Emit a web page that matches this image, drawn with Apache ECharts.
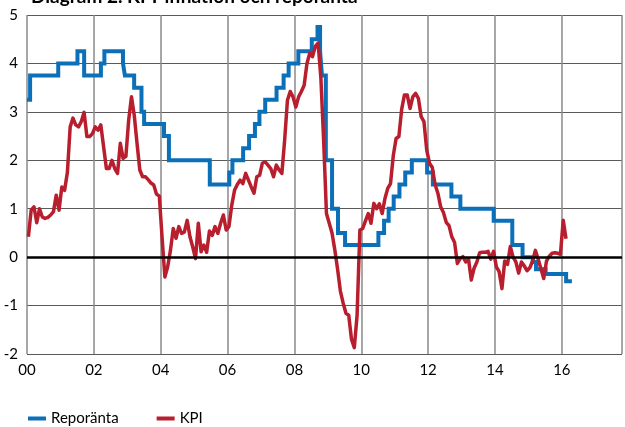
<!DOCTYPE html>
<html>
<head>
<meta charset="utf-8">
<script src="https://cdn.jsdelivr.net/npm/echarts@6/dist/echarts.min.js"></script>
<style>
  html, body { margin: 0; padding: 0; background: #fff; }
  #chart { width: 625px; height: 427px; }
</style>
</head>
<body>
<div id="chart"></div>
<script>
// Title and legend names
const titleText = 'Diagram 2. KPI-inflation och reporänta';
const seriesNames = ['Reporänta', 'KPI'];

// Repo rate: date each decision took effect and the new rate (per cent)
const repoDates = [
  '2000-01-01', '2000-02-04', '2000-12-08', '2001-07-06', '2001-09-17',
  '2002-03-19', '2002-04-26', '2002-11-15', '2002-12-06', '2003-03-17',
  '2003-06-05', '2003-07-04', '2004-02-06', '2004-03-31', '2005-06-21',
  '2006-01-20', '2006-02-23', '2006-06-20', '2006-08-24', '2006-10-27',
  '2006-12-15', '2007-02-16', '2007-06-20', '2007-09-05', '2007-10-30',
  '2008-02-13', '2008-07-09', '2008-09-10', '2008-10-08', '2008-10-29',
  '2008-12-10', '2009-02-16', '2009-04-22', '2009-07-08', '2010-07-07',
  '2010-09-07', '2010-10-27', '2010-12-21', '2011-02-22', '2011-04-26',
  '2011-07-07', '2011-12-21', '2012-02-22', '2012-09-12', '2012-12-19',
  '2013-12-18', '2014-07-09', '2014-10-29', '2015-02-18', '2015-03-25',
  '2015-07-08', '2016-02-17', '2016-04-20'
];
const repoRates = [
  3.25, 3.75, 4.00, 4.25, 3.75,
  4.00, 4.25, 4.00, 3.75, 3.50,
  3.00, 2.75, 2.50, 2.00, 1.50,
  1.75, 2.00, 2.25, 2.50, 2.75,
  3.00, 3.25, 3.50, 3.75, 4.00,
  4.25, 4.50, 4.75, 4.25, 3.75,
  2.00, 1.00, 0.50, 0.25, 0.50,
  0.75, 1.00, 1.25, 1.50, 1.75,
  2.00, 1.75, 1.50, 1.25, 1.00,
  0.75, 0.25, 0.00, -0.10, -0.25,
  -0.35, -0.50, -0.50
];

// KPI, annual change in per cent, one value per month from January 2000
const kpiStart = '2000-01';
const kpi = [
  0.42, 0.97, 1.04, 0.71, 1.00, 0.83, 0.80, 0.82, 0.87, 0.94, 1.28, 0.97,   // 2000
  1.45, 1.38, 1.75, 2.69, 2.87, 2.73, 2.69, 2.80, 2.99, 2.49, 2.49, 2.55,   // 2001
  2.69, 2.62, 2.73, 2.28, 1.83, 1.83, 2.00, 1.83, 1.73, 2.35, 2.04, 2.08,   // 2002
  2.83, 3.31, 2.93, 2.35, 1.80, 1.66, 1.66, 1.60, 1.53, 1.49, 1.30, 1.26,   // 2003
  0.40, -0.41, -0.20, 0.14, 0.59, 0.39, 0.63, 0.49, 0.52, 0.76, 0.42, 0.21, // 2004
  -0.03, 0.70, 0.11, 0.25, 0.10, 0.54, 0.45, 0.63, 0.49, 0.70, 0.87, 0.56,  // 2005
  0.63, 1.07, 1.38, 1.50, 1.59, 1.52, 1.73, 1.59, 1.45, 1.32, 1.66, 1.69,   // 2006
  1.94, 1.97, 1.90, 1.83, 1.66, 1.90, 1.80, 1.73, 2.42, 3.24, 3.42, 3.31,   // 2007
  3.10, 3.31, 3.42, 3.55, 4.00, 4.21, 4.14, 4.35, 4.42, 3.70, 2.40, 0.90,   // 2008
  0.70, 0.50, 0.15, -0.25, -0.70, -0.95, -1.16, -1.20, -1.70, -1.87, -1.20, 0.56, // 2009
  0.59, 0.75, 0.90, 0.70, 1.11, 1.00, 1.10, 0.90, 1.21, 1.42, 1.52, 2.10,   // 2010
  2.45, 2.49, 3.05, 3.35, 3.35, 3.07, 3.31, 3.38, 3.28, 2.90, 2.80, 2.21,   // 2011
  1.94, 1.85, 1.50, 1.32, 1.04, 0.92, 0.72, 0.65, 0.42, 0.30, -0.13, -0.03, // 2012
  0.01, -0.10, -0.04, -0.47, -0.23, -0.10, 0.09, 0.10, 0.10, 0.12, -0.04, 0.12, // 2013
  -0.20, -0.30, -0.65, -0.08, -0.15, 0.22, 0.00, -0.10, -0.33, -0.10, -0.18, -0.28, // 2014
  -0.22, -0.08, 0.14, -0.04, -0.24, -0.44, -0.08, 0.02, 0.08, 0.09, 0.08, 0.06, // 2015
  0.76, 0.38                                                                 // 2016
];

// Axis ranges (years counted from 2000) and tick labels
const xTicks = ['00', '02', '04', '06', '08', '10', '12', '14', '16'];
const yMin = -2, yMax = 5;

// Convert a date string to years since 1 Jan 2000
function yearsSince2000(s) {
  const [y, m, d] = s.split('-').map(Number);
  const start = Date.UTC(y, 0, 1);
  const end = Date.UTC(y + 1, 0, 1);
  const t = Date.UTC(y, (m || 1) - 1, d || 1);
  return (y - 2000) + (t - start) / (end - start);
}

const repoData = repoDates.map((d, i) => [yearsSince2000(d), repoRates[i]]);
const kpiOrigin = yearsSince2000(kpiStart + '-01');
const kpiData = kpi.map((v, i) => [kpiOrigin + (i + 0.5) / 12, v]);

const FONT = 'Lato, "Open Sans", "Noto Sans", sans-serif';
const BLUE = '#0b70b8';
const RED = '#b81e2d';

const chart = echarts.init(document.getElementById('chart'), null, { renderer: 'canvas' });
chart.setOption({
  animation: false,
  backgroundColor: '#fff',
  title: {
    text: titleText,
    left: 26,
    top: -18,
    textStyle: { fontFamily: FONT, fontWeight: 'bold', fontSize: 19, color: '#000' }
  },
  legend: {
    data: seriesNames,
    left: 23,
    top: 406,
    icon: 'rect',
    itemWidth: 18,
    itemHeight: 4,
    itemGap: 38,
    textStyle: { fontFamily: FONT, fontSize: 15, color: '#000' }
  },
  grid: { left: 27, right: 0, top: 15, bottom: 73, containLabel: false },
  xAxis: {
    type: 'value',
    min: 0,
    max: 17.8,
    interval: 2,
    axisLine: { show: false, onZero: false },
    axisTick: { show: false },
    axisLabel: {
      margin: 9,
      fontFamily: FONT,
      fontSize: 15,
      color: '#000',
      formatter: v => {
        const k = Math.round(v / 2);
        return Math.abs(v - 2 * k) < 1e-6 && k < xTicks.length ? xTicks[k] : '';
      }
    },
    splitLine: { show: true, lineStyle: { color: '#8a8a8a', width: 1.5 } }
  },
  yAxis: {
    type: 'value',
    min: yMin,
    max: yMax,
    interval: 1,
    axisLine: { show: false },
    axisTick: { show: false },
    axisLabel: { margin: 9, fontFamily: FONT, fontSize: 15, color: '#000' },
    splitLine: { show: true, lineStyle: { color: '#5a5a5a', width: 1.2 } }
  },
  series: [
    {
      name: seriesNames[0],
      type: 'line',
      step: 'end',
      data: repoData,
      color: BLUE,
      showSymbol: false,
      lineStyle: { color: BLUE, width: 4, join: 'miter', cap: 'butt' },
      markLine: {
        silent: true,
        symbol: ['none', 'none'],
        label: { show: false },
        lineStyle: { color: '#000', width: 2.5, type: 'solid' },
        data: [{ yAxis: 0 }]
      }
    },
    {
      name: seriesNames[1],
      type: 'line',
      data: kpiData,
      color: RED,
      showSymbol: false,
      lineStyle: { color: RED, width: 3.5, join: 'round' }
    }
  ]
});
</script>
</body>
</html>
